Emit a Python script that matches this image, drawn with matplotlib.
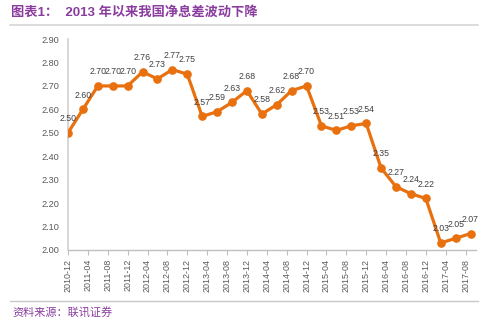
import matplotlib
matplotlib.use("Agg")
import matplotlib.pyplot as plt
from matplotlib.lines import Line2D

plt.rcParams['font.family'] = ['Liberation Sans', 'Noto Sans CJK SC', 'DejaVu Sans']

# Quarterly net interest margin (%)
quarters = ['2010-12', '2011-03', '2011-06', '2011-09', '2011-12',
            '2012-03', '2012-06', '2012-09', '2012-12',
            '2013-03', '2013-06', '2013-09', '2013-12',
            '2014-03', '2014-06', '2014-09', '2014-12',
            '2015-03', '2015-06', '2015-09', '2015-12',
            '2016-03', '2016-06', '2016-09', '2016-12',
            '2017-03', '2017-06', '2017-09']
nim = [2.50, 2.60, 2.70, 2.70, 2.70,
       2.76, 2.73, 2.77, 2.75,
       2.57, 2.59, 2.63, 2.68,
       2.58, 2.62, 2.68, 2.70,
       2.53, 2.51, 2.53, 2.54,
       2.35, 2.27, 2.24, 2.22,
       2.03, 2.05, 2.07]

tick_labels = ['2010-12', '2011-04', '2011-08', '2011-12', '2012-04', '2012-08',
               '2012-12', '2013-04', '2013-08', '2013-12', '2014-04', '2014-08',
               '2014-12', '2015-04', '2015-08', '2015-12', '2016-04', '2016-08',
               '2016-12', '2017-04', '2017-08']
y_ticks = [2.00, 2.10, 2.20, 2.30, 2.40, 2.50, 2.60, 2.70, 2.80, 2.90]

title = '图表1：  2013 年以来我国净息差波动下降'
source = '资料来源：联讯证券'


def month_index(s):
    y, m = s.split('-')
    return (int(y) - 2010) * 12 + int(m) - 12


x = [month_index(q) for q in quarters]
xt = [month_index(t) for t in tick_labels]

fig = plt.figure(figsize=(5.0, 3.25), dpi=100)
ax = fig.add_axes([0.136, 0.2308, 0.815, 0.649])

orange = '#E8700E'
gray_txt = '#595959'

ax.plot(x, nim, color=orange, lw=2.3, marker='o', ms=5.2, zorder=3,
        solid_joinstyle='round')
for xi, v in zip(x, nim):
    ax.annotate(f'{v:.2f}', (xi, v), xytext=(0, 7), textcoords='offset points',
                ha='center', va='bottom', fontsize=6.3, color='#404040')

ax.set_xlim(0, 82)
ax.set_ylim(2.0, 2.9)
ax.set_yticks(y_ticks)
ax.set_yticklabels([f'{t:.2f}' for t in y_ticks], fontsize=6.6, color=gray_txt)
ax.set_xticks(xt)
ax.set_xticklabels(tick_labels, rotation=90, fontsize=6.4, color=gray_txt)

for s in ['top', 'right']:
    ax.spines[s].set_visible(False)
ax.spines['left'].set_color('#D0D0D0')
ax.spines['left'].set_linewidth(1.2)
ax.spines['bottom'].set_color('#BFBFBF')
ax.spines['bottom'].set_linewidth(1.0)
ax.tick_params(axis='y', length=0, pad=6)
ax.tick_params(axis='x', direction='out', length=3.5, color='#BFBFBF', pad=3)

purple = '#8A3D9E'
fig.text(0.022, 0.962, title, fontsize=9.5, fontweight='bold', color=purple,
         ha='left', va='center')
fig.add_artist(Line2D([0.02, 0.955], [0.923, 0.923], color='#D5D5D5', lw=1.2,
                      transform=fig.transFigure))
fig.add_artist(Line2D([0.02, 0.955], [0.074, 0.074], color='#C8C8C8', lw=1.0,
                      transform=fig.transFigure))
fig.text(0.024, 0.037, source, fontsize=8, style='italic', color=purple,
         ha='left', va='center')

fig.savefig('out.png', dpi=100)
